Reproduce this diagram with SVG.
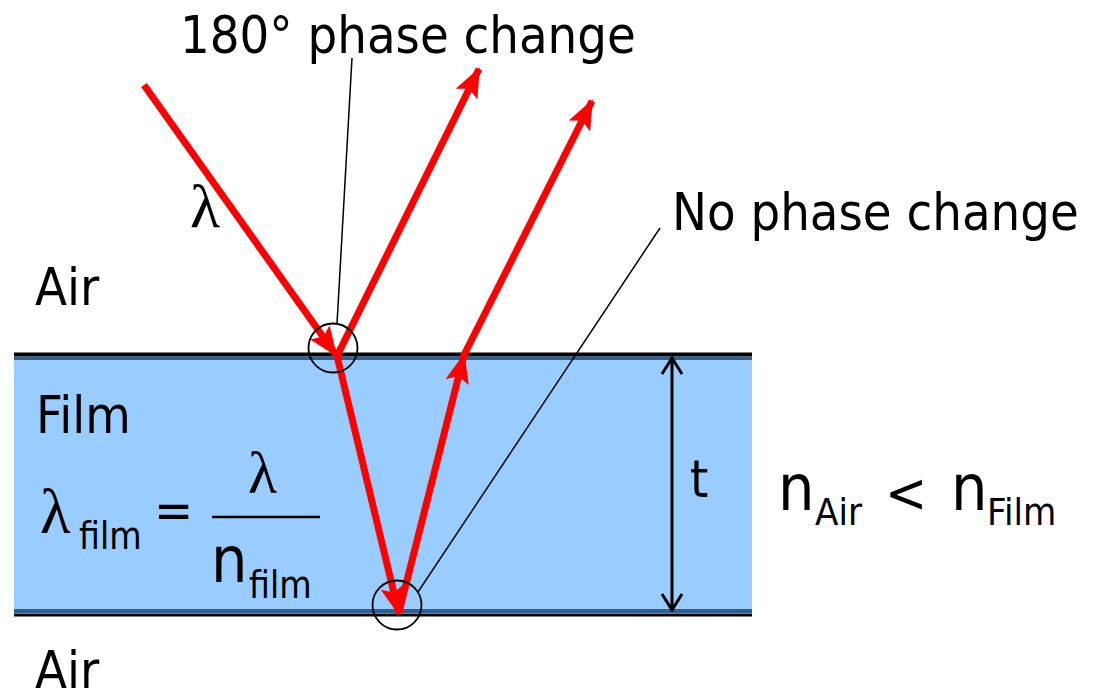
<svg xmlns="http://www.w3.org/2000/svg" width="1099" height="691" viewBox="0 0 1099 691">
<style>
.lbl{font-family:"DejaVu Sans Condensed","Liberation Sans",sans-serif;font-stretch:condensed;fill:#000}
.sym{font-family:"Liberation Serif","DejaVu Serif",serif;fill:#000}
.ray{stroke:#FF0000;stroke-width:7;fill:none}
.thin{stroke:#000;stroke-width:1.5;fill:none}
</style>
<defs>
<marker id="ah" markerUnits="userSpaceOnUse" markerWidth="30" markerHeight="24" viewBox="0 0 30 24" refX="28" refY="12" orient="auto">
<path d="M0,0 L30,12 L0,24 L6,12 Z" fill="#FF0000"/>
</marker>
<marker id="oa" markerUnits="userSpaceOnUse" markerWidth="20" markerHeight="24" viewBox="0 0 20 24" refX="18" refY="12" orient="auto-start-reverse">
<path d="M2,2 L18,12 L2,22" fill="none" stroke="#000" stroke-width="3"/>
</marker>
</defs>
<rect width="1099" height="691" fill="#fff"/>
<g id="film">
<rect x="14" y="355" width="738" height="258" fill="#99CCFF"/>
<line x1="14" y1="358.5" x2="752" y2="358.5" stroke="#2F5F8F" stroke-width="3"/>
<line x1="14" y1="354.5" x2="752" y2="354.5" stroke="#000" stroke-width="4"/>
<line x1="14" y1="611" x2="752" y2="611" stroke="#2F5F8F" stroke-width="4"/>
<line x1="14" y1="615" x2="752" y2="615" stroke="#000" stroke-width="3"/>
</g>
<g id="connectors">
<line class="ray" x1="144" y1="85" x2="336" y2="355" marker-end="url(#ah)"/>
<line class="ray" x1="337" y1="356" x2="479" y2="69" marker-end="url(#ah)"/>
<line class="ray" x1="337" y1="356" x2="399" y2="614" marker-end="url(#ah)"/>
<line class="ray" x1="399" y1="612" x2="464" y2="355" marker-end="url(#ah)"/>
<line class="ray" x1="463" y1="357" x2="592" y2="101" marker-end="url(#ah)"/>
<line class="thin" x1="352" y1="58" x2="337" y2="324"/>
<line class="thin" x1="660" y1="228" x2="418" y2="592"/>
<line x1="672" y1="358" x2="672" y2="610" stroke="#000" stroke-width="3" marker-start="url(#oa)" marker-end="url(#oa)"/>
</g>
<g id="circles" fill="none" stroke="#000" stroke-width="1.8">
<circle cx="333" cy="348" r="24.5"/>
<circle cx="397" cy="605" r="24.5"/>
</g>
<g id="labels">
<text class="lbl" x="180" y="53" style="font-size:52px">180° phase change</text>
<text class="lbl" x="672" y="230" style="font-size:52px">No phase change</text>
<text class="lbl" x="35" y="305" style="font-size:52px">Air</text>
<text class="lbl" x="36" y="433" style="font-size:52px">Film</text>
<text class="lbl" x="35" y="688" style="font-size:52px">Air</text>
<text class="lbl" x="690" y="497" style="font-size:52px">t</text>
<text class="sym" x="190" y="227" style="font-size:62px">λ</text>
</g>
<g id="formula">
<text class="sym" x="40" y="533" style="font-size:63px">λ</text>
<text class="lbl" x="79" y="549" style="font-size:37px">film</text>
<text class="lbl" x="154" y="528" style="font-size:52px">=</text>
<line x1="212" y1="517" x2="320" y2="517" stroke="#000" stroke-width="2.5"/>
<text class="sym" x="248" y="493" style="font-size:60px">λ</text>
<text class="lbl" x="211" y="582" style="font-size:64px">n</text>
<text class="lbl" x="249" y="598" style="font-size:37px">film</text>
</g>
<g id="relation">
<text class="lbl" x="778" y="510" style="font-size:64px">n</text>
<text class="lbl" x="815" y="525" style="font-size:38px">Air</text>
<text class="lbl" x="885" y="512" style="font-size:56px">&lt;</text>
<text class="lbl" x="951" y="510" style="font-size:64px">n</text>
<text class="lbl" x="987" y="525" style="font-size:38px">Film</text>
</g>
</svg>
